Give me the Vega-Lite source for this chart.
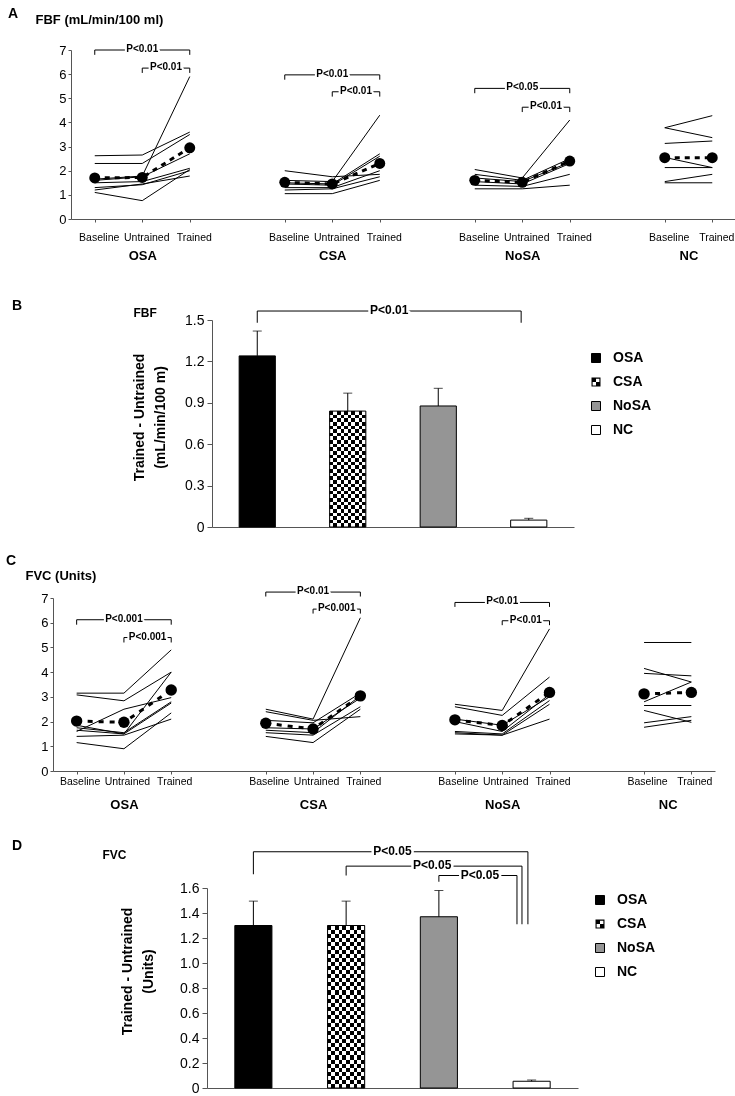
{
"$schema": "https://vega.github.io/schema/vega-lite/v6.json",
"background": "white",
"padding": {"left": 6, "top": 6, "right": 0, "bottom": 0},
"config": {
  "view": {"stroke": null},
  "font": "Liberation Sans",
  "title": {"font": "Liberation Sans", "fontSize": 14, "fontWeight": "bold", "color": "black", "anchor": "start", "frame": "group"},
  "axis": {"grid": false, "domainColor": "#555", "tickColor": "#555", "labelColor": "#000", "titleColor": "#000", "labelFont": "Liberation Sans", "titleFont": "Liberation Sans"},
  "legend": {"labelFont": "Liberation Sans"},
  "text": {"font": "Liberation Sans"}
},
"datasets": {
  "fbfSub": [
    {"s":"O1","c":"OSA Baseline","v":2.62},{"s":"O1","c":"OSA Untrained","v":2.65},{"s":"O1","c":"OSA Trained","v":3.6},
    {"s":"O2","c":"OSA Baseline","v":2.3},{"s":"O2","c":"OSA Untrained","v":2.3},{"s":"O2","c":"OSA Trained","v":3.5},
    {"s":"O3","c":"OSA Baseline","v":1.65},{"s":"O3","c":"OSA Untrained","v":1.78},{"s":"O3","c":"OSA Trained","v":5.9},
    {"s":"O4","c":"OSA Baseline","v":1.6},{"s":"O4","c":"OSA Untrained","v":1.75},{"s":"O4","c":"OSA Trained","v":2.7},
    {"s":"O5","c":"OSA Baseline","v":1.5},{"s":"O5","c":"OSA Untrained","v":1.55},{"s":"O5","c":"OSA Trained","v":2.1},
    {"s":"O6","c":"OSA Baseline","v":1.3},{"s":"O6","c":"OSA Untrained","v":1.42},{"s":"O6","c":"OSA Trained","v":2.0},
    {"s":"O7","c":"OSA Baseline","v":1.2},{"s":"O7","c":"OSA Untrained","v":1.45},{"s":"O7","c":"OSA Trained","v":1.78},
    {"s":"O8","c":"OSA Baseline","v":1.1},{"s":"O8","c":"OSA Untrained","v":0.76},{"s":"O8","c":"OSA Trained","v":2.05},
    {"s":"C1","c":"CSA Baseline","v":2.0},{"s":"C1","c":"CSA Untrained","v":1.75},{"s":"C1","c":"CSA Trained","v":1.85},
    {"s":"C2","c":"CSA Baseline","v":1.6},{"s":"C2","c":"CSA Untrained","v":1.55},{"s":"C2","c":"CSA Trained","v":4.3},
    {"s":"C3","c":"CSA Baseline","v":1.5},{"s":"C3","c":"CSA Untrained","v":1.45},{"s":"C3","c":"CSA Trained","v":2.7},
    {"s":"C4","c":"CSA Baseline","v":1.45},{"s":"C4","c":"CSA Untrained","v":1.4},{"s":"C4","c":"CSA Trained","v":2.6},
    {"s":"C5","c":"CSA Baseline","v":1.3},{"s":"C5","c":"CSA Untrained","v":1.3},{"s":"C5","c":"CSA Trained","v":2.0},
    {"s":"C6","c":"CSA Baseline","v":1.2},{"s":"C6","c":"CSA Untrained","v":1.25},{"s":"C6","c":"CSA Trained","v":1.75},
    {"s":"C7","c":"CSA Baseline","v":1.05},{"s":"C7","c":"CSA Untrained","v":1.05},{"s":"C7","c":"CSA Trained","v":1.6},
    {"s":"N1","c":"NoSA Baseline","v":2.05},{"s":"N1","c":"NoSA Untrained","v":1.7},{"s":"N1","c":"NoSA Trained","v":4.1},
    {"s":"N2","c":"NoSA Baseline","v":1.85},{"s":"N2","c":"NoSA Untrained","v":1.6},{"s":"N2","c":"NoSA Trained","v":2.5},
    {"s":"N3","c":"NoSA Baseline","v":1.7},{"s":"N3","c":"NoSA Untrained","v":1.55},{"s":"N3","c":"NoSA Trained","v":2.35},
    {"s":"N4","c":"NoSA Baseline","v":1.55},{"s":"N4","c":"NoSA Untrained","v":1.45},{"s":"N4","c":"NoSA Trained","v":2.3},
    {"s":"N5","c":"NoSA Baseline","v":1.4},{"s":"N5","c":"NoSA Untrained","v":1.35},{"s":"N5","c":"NoSA Trained","v":1.85},
    {"s":"N6","c":"NoSA Baseline","v":1.25},{"s":"N6","c":"NoSA Untrained","v":1.25},{"s":"N6","c":"NoSA Trained","v":1.4},
    {"s":"K1","c":"NC Baseline","v":3.78},{"s":"K1","c":"NC Trained","v":4.28},
    {"s":"K2","c":"NC Baseline","v":3.78},{"s":"K2","c":"NC Trained","v":3.37},
    {"s":"K3","c":"NC Baseline","v":3.13},{"s":"K3","c":"NC Trained","v":3.23},
    {"s":"K4","c":"NC Baseline","v":2.55},{"s":"K4","c":"NC Trained","v":2.13},
    {"s":"K5","c":"NC Baseline","v":2.13},{"s":"K5","c":"NC Trained","v":2.13},
    {"s":"K6","c":"NC Baseline","v":1.55},{"s":"K6","c":"NC Trained","v":1.85},
    {"s":"K7","c":"NC Baseline","v":1.5},{"s":"K7","c":"NC Trained","v":1.5}
  ],
  "fbfMean": [
    {"s":"mO","c":"OSA Baseline","v":1.7},{"s":"mO","c":"OSA Untrained","v":1.72},{"s":"mO","c":"OSA Trained","v":2.95},
    {"s":"mC","c":"CSA Baseline","v":1.52},{"s":"mC","c":"CSA Untrained","v":1.45},{"s":"mC","c":"CSA Trained","v":2.3},
    {"s":"mN","c":"NoSA Baseline","v":1.6},{"s":"mN","c":"NoSA Untrained","v":1.52},{"s":"mN","c":"NoSA Trained","v":2.4},
    {"s":"mK","c":"NC Baseline","v":2.54},{"s":"mK","c":"NC Trained","v":2.54}
  ],
  "fbfBrk": [
    {"from":"OSA Baseline","to":"OSA Trained","mid":"OSA Untrained","hi":7.0,"lo":6.8,"p":"P<0.01"},
    {"from":"OSA Untrained","to":"OSA Trained","mid":"OSA U-T","hi":6.25,"lo":6.05,"p":"P<0.01"},
    {"from":"CSA Baseline","to":"CSA Trained","mid":"CSA Untrained","hi":5.97,"lo":5.77,"p":"P<0.01"},
    {"from":"CSA Untrained","to":"CSA Trained","mid":"CSA U-T","hi":5.27,"lo":5.07,"p":"P<0.01"},
    {"from":"NoSA Baseline","to":"NoSA Trained","mid":"NoSA Untrained","hi":5.41,"lo":5.21,"p":"P<0.05"},
    {"from":"NoSA Untrained","to":"NoSA Trained","mid":"NoSA U-T","hi":4.63,"lo":4.43,"p":"P<0.01"}
  ],
  "fvcSub": [
    {"s":"O1","c":"OSA Baseline","v":3.15},{"s":"O1","c":"OSA Untrained","v":3.15},{"s":"O1","c":"OSA Trained","v":4.9},
    {"s":"O2","c":"OSA Baseline","v":3.08},{"s":"O2","c":"OSA Untrained","v":2.84},{"s":"O2","c":"OSA Trained","v":4.0},
    {"s":"O3","c":"OSA Baseline","v":1.6},{"s":"O3","c":"OSA Untrained","v":2.5},{"s":"O3","c":"OSA Trained","v":2.97},
    {"s":"O4","c":"OSA Baseline","v":1.85},{"s":"O4","c":"OSA Untrained","v":1.5},{"s":"O4","c":"OSA Trained","v":4.0},
    {"s":"O5","c":"OSA Baseline","v":1.75},{"s":"O5","c":"OSA Untrained","v":1.55},{"s":"O5","c":"OSA Trained","v":2.8},
    {"s":"O6","c":"OSA Baseline","v":1.65},{"s":"O6","c":"OSA Untrained","v":1.5},{"s":"O6","c":"OSA Trained","v":2.75},
    {"s":"O7","c":"OSA Baseline","v":1.4},{"s":"O7","c":"OSA Untrained","v":1.45},{"s":"O7","c":"OSA Trained","v":2.1},
    {"s":"O8","c":"OSA Baseline","v":1.15},{"s":"O8","c":"OSA Untrained","v":0.9},{"s":"O8","c":"OSA Trained","v":2.35},
    {"s":"C1","c":"CSA Baseline","v":2.5},{"s":"C1","c":"CSA Untrained","v":2.1},{"s":"C1","c":"CSA Trained","v":6.2},
    {"s":"C2","c":"CSA Baseline","v":2.4},{"s":"C2","c":"CSA Untrained","v":2.05},{"s":"C2","c":"CSA Trained","v":2.2},
    {"s":"C3","c":"CSA Baseline","v":2.05},{"s":"C3","c":"CSA Untrained","v":1.95},{"s":"C3","c":"CSA Trained","v":3.15},
    {"s":"C4","c":"CSA Baseline","v":1.65},{"s":"C4","c":"CSA Untrained","v":1.55},{"s":"C4","c":"CSA Trained","v":3.05},
    {"s":"C5","c":"CSA Baseline","v":1.55},{"s":"C5","c":"CSA Untrained","v":1.45},{"s":"C5","c":"CSA Trained","v":2.6},
    {"s":"C6","c":"CSA Baseline","v":1.4},{"s":"C6","c":"CSA Untrained","v":1.15},{"s":"C6","c":"CSA Trained","v":2.5},
    {"s":"C7","c":"CSA Baseline","v":1.75},{"s":"C7","c":"CSA Untrained","v":1.7},{"s":"C7","c":"CSA Trained","v":2.95},
    {"s":"N1","c":"NoSA Baseline","v":2.7},{"s":"N1","c":"NoSA Untrained","v":2.45},{"s":"N1","c":"NoSA Trained","v":5.75},
    {"s":"N2","c":"NoSA Baseline","v":2.6},{"s":"N2","c":"NoSA Untrained","v":2.25},{"s":"N2","c":"NoSA Trained","v":3.8},
    {"s":"N3","c":"NoSA Baseline","v":2.1},{"s":"N3","c":"NoSA Untrained","v":1.85},{"s":"N3","c":"NoSA Trained","v":3.0},
    {"s":"N4","c":"NoSA Baseline","v":1.6},{"s":"N4","c":"NoSA Untrained","v":1.5},{"s":"N4","c":"NoSA Trained","v":2.85},
    {"s":"N5","c":"NoSA Baseline","v":1.55},{"s":"N5","c":"NoSA Untrained","v":1.45},{"s":"N5","c":"NoSA Trained","v":2.7},
    {"s":"N6","c":"NoSA Baseline","v":1.5},{"s":"N6","c":"NoSA Untrained","v":1.45},{"s":"N6","c":"NoSA Trained","v":2.1},
    {"s":"N7","c":"NoSA Baseline","v":2.0},{"s":"N7","c":"NoSA Untrained","v":1.6},{"s":"N7","c":"NoSA Trained","v":3.1},
    {"s":"K1","c":"NC Baseline","v":5.2},{"s":"K1","c":"NC Trained","v":5.2},
    {"s":"K2","c":"NC Baseline","v":4.15},{"s":"K2","c":"NC Trained","v":3.6},
    {"s":"K3","c":"NC Baseline","v":3.95},{"s":"K3","c":"NC Trained","v":3.85},
    {"s":"K4","c":"NC Baseline","v":2.8},{"s":"K4","c":"NC Trained","v":3.6},
    {"s":"K5","c":"NC Baseline","v":2.65},{"s":"K5","c":"NC Trained","v":2.65},
    {"s":"K6","c":"NC Baseline","v":2.45},{"s":"K6","c":"NC Trained","v":1.97},
    {"s":"K7","c":"NC Baseline","v":1.95},{"s":"K7","c":"NC Trained","v":2.2},
    {"s":"K8","c":"NC Baseline","v":1.77},{"s":"K8","c":"NC Trained","v":2.05}
  ],
  "fvcMean": [
    {"s":"mO","c":"OSA Baseline","v":2.02},{"s":"mO","c":"OSA Untrained","v":1.97},{"s":"mO","c":"OSA Trained","v":3.28},
    {"s":"mC","c":"CSA Baseline","v":1.93},{"s":"mC","c":"CSA Untrained","v":1.7},{"s":"mC","c":"CSA Trained","v":3.04},
    {"s":"mN","c":"NoSA Baseline","v":2.07},{"s":"mN","c":"NoSA Untrained","v":1.84},{"s":"mN","c":"NoSA Trained","v":3.18},
    {"s":"mK","c":"NC Baseline","v":3.12},{"s":"mK","c":"NC Trained","v":3.18}
  ],
  "fvcBrk": [
    {"from":"OSA Baseline","to":"OSA Trained","mid":"OSA Untrained","hi":6.12,"lo":5.92,"p":"P<0.001"},
    {"from":"OSA Untrained","to":"OSA Trained","mid":"OSA U-T","hi":5.4,"lo":5.2,"p":"P<0.001"},
    {"from":"CSA Baseline","to":"CSA Trained","mid":"CSA Untrained","hi":7.24,"lo":7.06,"p":"P<0.01"},
    {"from":"CSA Untrained","to":"CSA Trained","mid":"CSA U-T","hi":6.55,"lo":6.37,"p":"P<0.001"},
    {"from":"NoSA Baseline","to":"NoSA Trained","mid":"NoSA Untrained","hi":6.82,"lo":6.64,"p":"P<0.01"},
    {"from":"NoSA Untrained","to":"NoSA Trained","mid":"NoSA U-T","hi":6.08,"lo":5.9,"p":"P<0.01"}
  ],
  "fbfDiff": [
    {"g":"OSA","m":1.24,"e":1.42},{"g":"CSA","m":0.84,"e":0.97},{"g":"NoSA","m":0.877,"e":1.005},{"g":"NC","m":0.05,"e":0.063}
  ],
  "fbfDiffBrk": [
    {"from":"OSA","to":"NC","lo":1.48,"hi":1.565,"p":"P<0.01"}
  ],
  "fvcDiff": [
    {"g":"OSA","m":1.3,"e":1.495},{"g":"CSA","m":1.3,"e":1.495},{"g":"NoSA","m":1.37,"e":1.58},{"g":"NC","m":0.054,"e":0.064}
  ],
  "fvcDiffBrk": [
    {"k":1,"from":"OSA","to":"NC","lo":1.71,"hi":1.89,"drop":1.31,"p":"P<0.05"},
    {"k":2,"from":"CSA","to":"NC","lo":1.7,"hi":1.775,"drop":1.31,"p":"P<0.05"},
    {"k":3,"from":"NoSA","to":"NC","lo":1.65,"hi":1.7,"drop":1.31,"p":"P<0.05"}
  ]
},
"concat": [
 {"concat": [
  {
   "width": 683, "height": 169,
   "title": {"text": "A", "dx": -45, "offset": -7.5},
   "resolve": {"axis": {"x": "independent"}},
   "layer": [
    {"data": {"name": "fbfSub"}, "mark": {"type": "line", "color": "black", "strokeWidth": 1},
     "encoding": {
      "x": {"field": "c", "type": "nominal",
            "scale": {"type": "point", "padding": 1, "range": [18, 683], "domain": ["OSA Baseline","OSA B-U","OSA Untrained","OSA U-T","OSA Trained","gap 1","gap 2","gap 3","CSA Baseline","CSA B-U","CSA Untrained","CSA U-T","CSA Trained","gap 4","gap 5","gap 6","NoSA Baseline","NoSA B-U","NoSA Untrained","NoSA U-T","NoSA Trained","gap 7","gap 8","gap 9","NC Baseline","NC B-T","NC Trained"]},
            "axis": {"orient": "bottom", "values": ["OSA Baseline","OSA Untrained","OSA Trained","CSA Baseline","CSA Untrained","CSA Trained","NoSA Baseline","NoSA Untrained","NoSA Trained","NC Baseline","NC Trained"],
                     "labelExpr": "split(datum.value, ' ')[1]", "title": null, "labelAngle": 0, "labelOverlap": false, "labelFontSize": 10.5, "tickSize": 3, "labelPadding": 10, "labelOffset": 4}},
      "y": {"field": "v", "type": "quantitative", "scale": {"domain": [0, 7], "nice": false, "zero": false},
            "axis": {"offset": -18, "values": [0,1,2,3,4,5,6,7], "format": "d", "tickCount": 10, "labelOverlap": false, "title": "FBF (mL/min/100 ml)", "titleAngle": 0, "titleAlign": "left", "titleBaseline": "middle", "titleX": -36, "titleY": -31, "titleFontSize": 13, "titleFontWeight": "bold", "labelFontSize": 13, "tickSize": 3, "labelPadding": 2}},
      "detail": {"field": "s"},
      "order": {"value": null}
     }},
    {"data": {"name": "fbfMean"}, "mark": {"type": "line", "color": "black", "strokeWidth": 3, "strokeDash": [5, 5]},
     "encoding": {
      "x": {"field": "c", "type": "nominal", "scale": {"type": "point"}, "axis": null},
      "y": {"field": "v", "type": "quantitative"},
      "detail": {"field": "s"},
      "order": {"value": null}
     }},
    {"data": {"name": "fbfMean"}, "mark": {"type": "point", "shape": "circle", "filled": true, "size": 120, "color": "black", "opacity": 1},
     "encoding": {
      "x": {"field": "c", "type": "nominal", "scale": {"type": "point"},
            "axis": {"orient": "bottom", "values": ["OSA Untrained","CSA Untrained","NoSA Untrained","NC B-T"], "labelExpr": "split(datum.value, ' ')[0]", "title": null, "ticks": false, "tickSize": 0, "domain": false, "labelAngle": 0, "labelOverlap": false, "labelFontSize": 13, "labelFontWeight": "bold", "labelPadding": 30}},
      "y": {"field": "v", "type": "quantitative"}
     }},
    {"data": {"name": "fbfBrk"},
     "layer": [
      {"mark": {"type": "rule", "color": "black", "strokeWidth": 1},
       "encoding": {"x": {"field": "from", "type": "nominal", "scale": {"type": "point"}, "axis": null}, "x2": {"field": "to"}, "y": {"field": "hi", "type": "quantitative"}}},
      {"mark": {"type": "rule", "color": "black", "strokeWidth": 1},
       "encoding": {"x": {"field": "from", "type": "nominal", "scale": {"type": "point"}, "axis": null}, "y": {"field": "hi", "type": "quantitative"}, "y2": {"field": "lo"}}},
      {"mark": {"type": "rule", "color": "black", "strokeWidth": 1},
       "encoding": {"x": {"field": "to", "type": "nominal", "scale": {"type": "point"}, "axis": null}, "y": {"field": "hi", "type": "quantitative"}, "y2": {"field": "lo"}}},
      {"mark": {"type": "text", "fontSize": 10, "fontWeight": "bold", "fill": "white", "stroke": "white", "strokeWidth": 4, "strokeJoin": "round", "dy": -1, "baseline": "middle", "align": "center"},
       "encoding": {"x": {"field": "mid", "type": "nominal", "scale": {"type": "point"}, "axis": null}, "y": {"field": "hi", "type": "quantitative"}, "text": {"field": "p"}}},
      {"mark": {"type": "text", "fontSize": 10, "fontWeight": "bold", "fill": "black", "dy": -1, "baseline": "middle", "align": "center"},
       "encoding": {"x": {"field": "mid", "type": "nominal", "scale": {"type": "point"}, "axis": null}, "y": {"field": "hi", "type": "quantitative"}, "text": {"field": "p"}}}
     ]}
   ]
  },
  {
   "width": 521, "height": 207,
   "title": {"text": "B", "dx": -41, "offset": -9},
   "layer": [
    {"data": {"name": "fbfDiff"}, "mark": {"type": "bar"},
     "encoding": {
      "x": {"field": "g", "type": "nominal", "scale": {"domain": ["OSA","CSA","NoSA","NC"], "range": [159, 521], "paddingInner": 0.6, "paddingOuter": 0.3},
            "axis": {"title": "FBF", "titleX": 80, "titleY": -215, "titleAlign": "left", "titleBaseline": "middle", "titleFontSize": 12, "titleFontWeight": "bold", "labels": false, "ticks": false, "domain": true}},
      "y": {"field": "m", "type": "quantitative", "scale": {"domain": [0, 1.5], "nice": false},
            "axis": {"offset": -159, "values": [0,0.3,0.6,0.9,1.2,1.5], "tickCount": 10, "labelOverlap": false, "labelExpr": "datum.value === 0 ? '0' : format(datum.value, '.1f')", "title": ["Trained - Untrained", "(mL/min/100 m)"], "titleFontSize": 14, "titleFontWeight": "bold", "titlePadding": 17, "titleLineHeight": 21, "titleY": 97, "labelFontSize": 14, "tickSize": 5, "labelPadding": 3}},
      "fill": {"field": "g", "type": "nominal", "scale": {"domain": ["OSA","CSA","NoSA","NC"], "range": ["#000000","#000000","#959595","#ffffff"]},
               "legend": {"orient": "none", "legendX": 536, "legendY": 31, "title": null, "symbolType": "square", "symbolSize": 81, "labelFontSize": 14, "labelFontWeight": "bold", "labelColor": "black", "labelOffset": 10, "rowPadding": 10, "padding": 0,
                          "encode": {"symbols": {"update": {"shape": {"signal": "datum.value === 'CSA' ? 'M-1,-1H1V1H-1ZM-0.75,-0.75V0.75H0.75V-0.75ZM-0.75,-0.75H0V0H-0.75ZM0,0H0.75V0.75H0Z' : 'square'"}, "stroke": {"value": "black"}, "strokeWidth": {"signal": "datum.value === 'CSA' ? 0 : 1"}, "opacity": {"value": 1}}}}}}
     }},
    {"data": {"name": "fbfDiff"}, "transform": [{"filter": "datum.g === 'CSA'"}],
     "mark": {"type": "bar", "fill": {"gradient": "linear", "x1": 0, "y1": 0, "x2": 0, "y2": 1, "stops": [{"offset":0,"color":"#000"},{"offset":0.03125,"color":"#000"},{"offset":0.03125,"color":"#fff"},{"offset":0.0625,"color":"#fff"},{"offset":0.0625,"color":"#000"},{"offset":0.09375,"color":"#000"},{"offset":0.09375,"color":"#fff"},{"offset":0.125,"color":"#fff"},{"offset":0.125,"color":"#000"},{"offset":0.15625,"color":"#000"},{"offset":0.15625,"color":"#fff"},{"offset":0.1875,"color":"#fff"},{"offset":0.1875,"color":"#000"},{"offset":0.21875,"color":"#000"},{"offset":0.21875,"color":"#fff"},{"offset":0.25,"color":"#fff"},{"offset":0.25,"color":"#000"},{"offset":0.28125,"color":"#000"},{"offset":0.28125,"color":"#fff"},{"offset":0.3125,"color":"#fff"},{"offset":0.3125,"color":"#000"},{"offset":0.34375,"color":"#000"},{"offset":0.34375,"color":"#fff"},{"offset":0.375,"color":"#fff"},{"offset":0.375,"color":"#000"},{"offset":0.40625,"color":"#000"},{"offset":0.40625,"color":"#fff"},{"offset":0.4375,"color":"#fff"},{"offset":0.4375,"color":"#000"},{"offset":0.46875,"color":"#000"},{"offset":0.46875,"color":"#fff"},{"offset":0.5,"color":"#fff"},{"offset":0.5,"color":"#000"},{"offset":0.53125,"color":"#000"},{"offset":0.53125,"color":"#fff"},{"offset":0.5625,"color":"#fff"},{"offset":0.5625,"color":"#000"},{"offset":0.59375,"color":"#000"},{"offset":0.59375,"color":"#fff"},{"offset":0.625,"color":"#fff"},{"offset":0.625,"color":"#000"},{"offset":0.65625,"color":"#000"},{"offset":0.65625,"color":"#fff"},{"offset":0.6875,"color":"#fff"},{"offset":0.6875,"color":"#000"},{"offset":0.71875,"color":"#000"},{"offset":0.71875,"color":"#fff"},{"offset":0.75,"color":"#fff"},{"offset":0.75,"color":"#000"},{"offset":0.78125,"color":"#000"},{"offset":0.78125,"color":"#fff"},{"offset":0.8125,"color":"#fff"},{"offset":0.8125,"color":"#000"},{"offset":0.84375,"color":"#000"},{"offset":0.84375,"color":"#fff"},{"offset":0.875,"color":"#fff"},{"offset":0.875,"color":"#000"},{"offset":0.90625,"color":"#000"},{"offset":0.90625,"color":"#fff"},{"offset":0.9375,"color":"#fff"},{"offset":0.9375,"color":"#000"},{"offset":0.96875,"color":"#000"},{"offset":0.96875,"color":"#fff"},{"offset":1,"color":"#fff"}]}},
     "encoding": {"x": {"field": "g", "type": "nominal"}, "y": {"field": "m", "type": "quantitative"}}},
    {"data": {"name": "fbfDiff"}, "transform": [{"filter": "datum.g === 'CSA'"}],
     "mark": {"type": "bar", "blend": "difference", "fill": {"gradient": "linear", "x1": 0, "y1": 0, "x2": 1, "y2": 0, "stops": [{"offset":0,"color":"#000"},{"offset":0.1,"color":"#000"},{"offset":0.1,"color":"#fff"},{"offset":0.2,"color":"#fff"},{"offset":0.2,"color":"#000"},{"offset":0.3,"color":"#000"},{"offset":0.3,"color":"#fff"},{"offset":0.4,"color":"#fff"},{"offset":0.4,"color":"#000"},{"offset":0.5,"color":"#000"},{"offset":0.5,"color":"#fff"},{"offset":0.6,"color":"#fff"},{"offset":0.6,"color":"#000"},{"offset":0.7,"color":"#000"},{"offset":0.7,"color":"#fff"},{"offset":0.8,"color":"#fff"},{"offset":0.8,"color":"#000"},{"offset":0.9,"color":"#000"},{"offset":0.9,"color":"#fff"},{"offset":1,"color":"#fff"}]}},
     "encoding": {"x": {"field": "g", "type": "nominal"}, "y": {"field": "m", "type": "quantitative"}}},
    {"data": {"name": "fbfDiff"}, "mark": {"type": "bar", "fillOpacity": 0, "stroke": "black", "strokeWidth": 1},
     "encoding": {"x": {"field": "g", "type": "nominal"}, "y": {"field": "m", "type": "quantitative"}}},
    {"data": {"name": "fbfDiff"}, "mark": {"type": "rule", "color": "black", "strokeWidth": 1},
     "encoding": {"x": {"field": "g", "type": "nominal"}, "y": {"field": "m", "type": "quantitative"}, "y2": {"field": "e"}}},
    {"data": {"name": "fbfDiff"}, "mark": {"type": "tick", "color": "black", "thickness": 1, "size": 9},
     "encoding": {"x": {"field": "g", "type": "nominal"}, "y": {"field": "e", "type": "quantitative"}}},
    {"data": {"name": "fbfDiffBrk"},
     "layer": [
      {"mark": {"type": "rule", "color": "black", "strokeWidth": 1},
       "encoding": {"x": {"field": "from", "type": "nominal"}, "y": {"field": "lo", "type": "quantitative"}, "y2": {"field": "hi"}}},
      {"mark": {"type": "rule", "color": "black", "strokeWidth": 1},
       "encoding": {"x": {"field": "from", "type": "nominal"}, "x2": {"field": "to", "bandPosition": 0.29}, "y": {"field": "hi", "type": "quantitative"}}},
      {"mark": {"type": "rule", "color": "black", "strokeWidth": 1},
       "encoding": {"x": {"field": "to", "type": "nominal", "bandPosition": 0.29}, "y": {"field": "hi", "type": "quantitative"}, "y2": {"field": "lo"}}},
      {"mark": {"type": "text", "fontSize": 12, "fontWeight": "bold", "fill": "white", "stroke": "white", "strokeWidth": 5, "strokeJoin": "round", "dx": 132, "dy": -1, "baseline": "middle", "align": "center"},
       "encoding": {"x": {"field": "from", "type": "nominal"}, "y": {"field": "hi", "type": "quantitative"}, "text": {"field": "p"}}},
      {"mark": {"type": "text", "fontSize": 12, "fontWeight": "bold", "fill": "black", "dx": 132, "dy": -1, "baseline": "middle", "align": "center"},
       "encoding": {"x": {"field": "from", "type": "nominal"}, "y": {"field": "hi", "type": "quantitative"}, "text": {"field": "p"}}}
     ]}
   ]
  }
 ], "columns": 1, "align": "none", "spacing": 37, "resolve": {"scale": {"fill": "independent"}, "legend": {"fill": "independent"}}},
 {"concat": [
  {
   "width": 662, "height": 173,
   "title": {"text": "C", "dx": -47, "offset": 1.5},
   "resolve": {"axis": {"x": "independent"}},
   "layer": [
    {"data": {"name": "fvcSub"}, "mark": {"type": "line", "color": "black", "strokeWidth": 1},
     "encoding": {
      "x": {"field": "c", "type": "nominal",
            "scale": {"type": "point", "padding": 1, "domain": ["OSA Baseline","OSA B-U","OSA Untrained","OSA U-T","OSA Trained","gap 1","gap 2","gap 3","CSA Baseline","CSA B-U","CSA Untrained","CSA U-T","CSA Trained","gap 4","gap 5","gap 6","NoSA Baseline","NoSA B-U","NoSA Untrained","NoSA U-T","NoSA Trained","gap 7","gap 8","gap 9","NC Baseline","NC B-T","NC Trained"]},
            "axis": {"orient": "bottom", "values": ["OSA Baseline","OSA Untrained","OSA Trained","CSA Baseline","CSA Untrained","CSA Trained","NoSA Baseline","NoSA Untrained","NoSA Trained","NC Baseline","NC Trained"],
                     "labelExpr": "split(datum.value, ' ')[1]", "title": null, "labelAngle": 0, "labelOverlap": false, "labelFontSize": 10.5, "tickSize": 3, "labelPadding": 2, "labelOffset": 3}},
      "y": {"field": "v", "type": "quantitative", "scale": {"domain": [0, 7], "nice": false, "zero": false},
            "axis": {"values": [0,1,2,3,4,5,6,7], "format": "d", "tickCount": 10, "labelOverlap": false, "title": "FVC (Units)", "titleAngle": 0, "titleAlign": "left", "titleBaseline": "middle", "titleX": -28, "titleY": -23, "titleFontSize": 13, "titleFontWeight": "bold", "labelFontSize": 13, "tickSize": 3, "labelPadding": 2}},
      "detail": {"field": "s"},
      "order": {"value": null}
     }},
    {"data": {"name": "fvcMean"}, "mark": {"type": "line", "color": "black", "strokeWidth": 3, "strokeDash": [5, 6]},
     "encoding": {
      "x": {"field": "c", "type": "nominal", "scale": {"type": "point"}, "axis": null},
      "y": {"field": "v", "type": "quantitative"},
      "detail": {"field": "s"},
      "order": {"value": null}
     }},
    {"data": {"name": "fvcMean"}, "mark": {"type": "point", "shape": "circle", "filled": true, "size": 130, "color": "black", "opacity": 1},
     "encoding": {
      "x": {"field": "c", "type": "nominal", "scale": {"type": "point"},
            "axis": {"orient": "bottom", "values": ["OSA Untrained","CSA Untrained","NoSA Untrained","NC B-T"], "labelExpr": "split(datum.value, ' ')[0]", "title": null, "ticks": false, "tickSize": 0, "domain": false, "labelAngle": 0, "labelOverlap": false, "labelFontSize": 13, "labelFontWeight": "bold", "labelPadding": 27}},
      "y": {"field": "v", "type": "quantitative"}
     }},
    {"data": {"name": "fvcBrk"},
     "layer": [
      {"mark": {"type": "rule", "color": "black", "strokeWidth": 1},
       "encoding": {"x": {"field": "from", "type": "nominal", "scale": {"type": "point"}, "axis": null}, "x2": {"field": "to"}, "y": {"field": "hi", "type": "quantitative"}}},
      {"mark": {"type": "rule", "color": "black", "strokeWidth": 1},
       "encoding": {"x": {"field": "from", "type": "nominal", "scale": {"type": "point"}, "axis": null}, "y": {"field": "hi", "type": "quantitative"}, "y2": {"field": "lo"}}},
      {"mark": {"type": "rule", "color": "black", "strokeWidth": 1},
       "encoding": {"x": {"field": "to", "type": "nominal", "scale": {"type": "point"}, "axis": null}, "y": {"field": "hi", "type": "quantitative"}, "y2": {"field": "lo"}}},
      {"mark": {"type": "text", "fontSize": 10, "fontWeight": "bold", "fill": "white", "stroke": "white", "strokeWidth": 4, "strokeJoin": "round", "dy": -1, "baseline": "middle", "align": "center"},
       "encoding": {"x": {"field": "mid", "type": "nominal", "scale": {"type": "point"}, "axis": null}, "y": {"field": "hi", "type": "quantitative"}, "text": {"field": "p"}}},
      {"mark": {"type": "text", "fontSize": 10, "fontWeight": "bold", "fill": "black", "dy": -1, "baseline": "middle", "align": "center"},
       "encoding": {"x": {"field": "mid", "type": "nominal", "scale": {"type": "point"}, "axis": null}, "y": {"field": "hi", "type": "quantitative"}, "text": {"field": "p"}}}
     ]}
   ]
  },
  {
   "width": 525, "height": 200,
   "title": {"text": "D", "dx": -41, "offset": -8.5},
   "layer": [
    {"data": {"name": "fvcDiff"}, "mark": {"type": "bar"},
     "encoding": {
      "x": {"field": "g", "type": "nominal", "scale": {"domain": ["OSA","CSA","NoSA","NC"], "range": [154, 525], "paddingInner": 0.6, "paddingOuter": 0.3},
            "axis": {"title": "FVC", "titleX": 49, "titleY": -234, "titleAlign": "left", "titleBaseline": "middle", "titleFontSize": 12, "titleFontWeight": "bold", "labels": false, "ticks": false, "domain": true}},
      "y": {"field": "m", "type": "quantitative", "scale": {"domain": [0, 1.6], "nice": false},
            "axis": {"offset": -154, "values": [0,0.2,0.4,0.6,0.8,1.0,1.2,1.4,1.6], "tickCount": 10, "labelOverlap": false, "labelExpr": "datum.value === 0 ? '0' : format(datum.value, '.1f')", "title": ["Trained - Untrained", "(Units)"], "titleFontSize": 14, "titleFontWeight": "bold", "titlePadding": 24, "titleLineHeight": 21, "titleY": 83, "labelFontSize": 14, "tickSize": 5, "labelPadding": 3}},
      "fill": {"field": "g", "type": "nominal", "scale": {"domain": ["OSA","CSA","NoSA","NC"], "range": ["#000000","#000000","#959595","#ffffff"]},
               "legend": {"orient": "none", "legendX": 540, "legendY": 5, "title": null, "symbolType": "square", "symbolSize": 81, "labelFontSize": 14, "labelFontWeight": "bold", "labelColor": "black", "labelOffset": 10, "rowPadding": 10, "padding": 0,
                          "encode": {"symbols": {"update": {"shape": {"signal": "datum.value === 'CSA' ? 'M-1,-1H1V1H-1ZM-0.75,-0.75V0.75H0.75V-0.75ZM-0.75,-0.75H0V0H-0.75ZM0,0H0.75V0.75H0Z' : 'square'"}, "stroke": {"value": "black"}, "strokeWidth": {"signal": "datum.value === 'CSA' ? 0 : 1"}, "opacity": {"value": 1}}}}}}
     }},
    {"data": {"name": "fvcDiff"}, "transform": [{"filter": "datum.g === 'CSA'"}],
     "mark": {"type": "bar", "fill": {"gradient": "linear", "x1": 0, "y1": 0, "x2": 0, "y2": 1, "stops": [{"offset":0,"color":"#000"},{"offset":0.025,"color":"#000"},{"offset":0.025,"color":"#fff"},{"offset":0.05,"color":"#fff"},{"offset":0.05,"color":"#000"},{"offset":0.075,"color":"#000"},{"offset":0.075,"color":"#fff"},{"offset":0.1,"color":"#fff"},{"offset":0.1,"color":"#000"},{"offset":0.125,"color":"#000"},{"offset":0.125,"color":"#fff"},{"offset":0.15,"color":"#fff"},{"offset":0.15,"color":"#000"},{"offset":0.175,"color":"#000"},{"offset":0.175,"color":"#fff"},{"offset":0.2,"color":"#fff"},{"offset":0.2,"color":"#000"},{"offset":0.225,"color":"#000"},{"offset":0.225,"color":"#fff"},{"offset":0.25,"color":"#fff"},{"offset":0.25,"color":"#000"},{"offset":0.275,"color":"#000"},{"offset":0.275,"color":"#fff"},{"offset":0.3,"color":"#fff"},{"offset":0.3,"color":"#000"},{"offset":0.325,"color":"#000"},{"offset":0.325,"color":"#fff"},{"offset":0.35,"color":"#fff"},{"offset":0.35,"color":"#000"},{"offset":0.375,"color":"#000"},{"offset":0.375,"color":"#fff"},{"offset":0.4,"color":"#fff"},{"offset":0.4,"color":"#000"},{"offset":0.425,"color":"#000"},{"offset":0.425,"color":"#fff"},{"offset":0.45,"color":"#fff"},{"offset":0.45,"color":"#000"},{"offset":0.475,"color":"#000"},{"offset":0.475,"color":"#fff"},{"offset":0.5,"color":"#fff"},{"offset":0.5,"color":"#000"},{"offset":0.525,"color":"#000"},{"offset":0.525,"color":"#fff"},{"offset":0.55,"color":"#fff"},{"offset":0.55,"color":"#000"},{"offset":0.575,"color":"#000"},{"offset":0.575,"color":"#fff"},{"offset":0.6,"color":"#fff"},{"offset":0.6,"color":"#000"},{"offset":0.625,"color":"#000"},{"offset":0.625,"color":"#fff"},{"offset":0.65,"color":"#fff"},{"offset":0.65,"color":"#000"},{"offset":0.675,"color":"#000"},{"offset":0.675,"color":"#fff"},{"offset":0.7,"color":"#fff"},{"offset":0.7,"color":"#000"},{"offset":0.725,"color":"#000"},{"offset":0.725,"color":"#fff"},{"offset":0.75,"color":"#fff"},{"offset":0.75,"color":"#000"},{"offset":0.775,"color":"#000"},{"offset":0.775,"color":"#fff"},{"offset":0.8,"color":"#fff"},{"offset":0.8,"color":"#000"},{"offset":0.825,"color":"#000"},{"offset":0.825,"color":"#fff"},{"offset":0.85,"color":"#fff"},{"offset":0.85,"color":"#000"},{"offset":0.875,"color":"#000"},{"offset":0.875,"color":"#fff"},{"offset":0.9,"color":"#fff"},{"offset":0.9,"color":"#000"},{"offset":0.925,"color":"#000"},{"offset":0.925,"color":"#fff"},{"offset":0.95,"color":"#fff"},{"offset":0.95,"color":"#000"},{"offset":0.975,"color":"#000"},{"offset":0.975,"color":"#fff"},{"offset":1,"color":"#fff"}]}},
     "encoding": {"x": {"field": "g", "type": "nominal"}, "y": {"field": "m", "type": "quantitative"}}},
    {"data": {"name": "fvcDiff"}, "transform": [{"filter": "datum.g === 'CSA'"}],
     "mark": {"type": "bar", "blend": "difference", "fill": {"gradient": "linear", "x1": 0, "y1": 0, "x2": 1, "y2": 0, "stops": [{"offset":0,"color":"#000"},{"offset":0.1,"color":"#000"},{"offset":0.1,"color":"#fff"},{"offset":0.2,"color":"#fff"},{"offset":0.2,"color":"#000"},{"offset":0.3,"color":"#000"},{"offset":0.3,"color":"#fff"},{"offset":0.4,"color":"#fff"},{"offset":0.4,"color":"#000"},{"offset":0.5,"color":"#000"},{"offset":0.5,"color":"#fff"},{"offset":0.6,"color":"#fff"},{"offset":0.6,"color":"#000"},{"offset":0.7,"color":"#000"},{"offset":0.7,"color":"#fff"},{"offset":0.8,"color":"#fff"},{"offset":0.8,"color":"#000"},{"offset":0.9,"color":"#000"},{"offset":0.9,"color":"#fff"},{"offset":1,"color":"#fff"}]}},
     "encoding": {"x": {"field": "g", "type": "nominal"}, "y": {"field": "m", "type": "quantitative"}}},
    {"data": {"name": "fvcDiff"}, "mark": {"type": "bar", "fillOpacity": 0, "stroke": "black", "strokeWidth": 1},
     "encoding": {"x": {"field": "g", "type": "nominal"}, "y": {"field": "m", "type": "quantitative"}}},
    {"data": {"name": "fvcDiff"}, "mark": {"type": "rule", "color": "black", "strokeWidth": 1},
     "encoding": {"x": {"field": "g", "type": "nominal"}, "y": {"field": "m", "type": "quantitative"}, "y2": {"field": "e"}}},
    {"data": {"name": "fvcDiff"}, "mark": {"type": "tick", "color": "black", "thickness": 1, "size": 9},
     "encoding": {"x": {"field": "g", "type": "nominal"}, "y": {"field": "e", "type": "quantitative"}}},
    {"data": {"name": "fvcDiffBrk"}, "mark": {"type": "rule", "color": "black", "strokeWidth": 1},
     "encoding": {"x": {"field": "from", "type": "nominal"}, "y": {"field": "lo", "type": "quantitative"}, "y2": {"field": "hi"}}},
    {"data": {"name": "fvcDiffBrk"}, "transform": [{"filter": "datum.k === 1"}],
     "layer": [
      {"mark": {"type": "rule", "color": "black", "strokeWidth": 1},
       "encoding": {"x": {"field": "from", "type": "nominal"}, "x2": {"field": "to", "bandPosition": 0.4}, "y": {"field": "hi", "type": "quantitative"}}},
      {"mark": {"type": "rule", "color": "black", "strokeWidth": 1},
       "encoding": {"x": {"field": "to", "type": "nominal", "bandPosition": 0.4}, "y": {"field": "hi", "type": "quantitative"}, "y2": {"field": "drop"}}},
      {"mark": {"type": "text", "fontSize": 12, "fontWeight": "bold", "fill": "white", "stroke": "white", "strokeWidth": 5, "strokeJoin": "round", "dx": 139, "dy": -1, "baseline": "middle", "align": "center"},
       "encoding": {"x": {"field": "from", "type": "nominal"}, "y": {"field": "hi", "type": "quantitative"}, "text": {"field": "p"}}},
      {"mark": {"type": "text", "fontSize": 12, "fontWeight": "bold", "fill": "black", "dx": 139, "dy": -1, "baseline": "middle", "align": "center"},
       "encoding": {"x": {"field": "from", "type": "nominal"}, "y": {"field": "hi", "type": "quantitative"}, "text": {"field": "p"}}}
     ]},
    {"data": {"name": "fvcDiffBrk"}, "transform": [{"filter": "datum.k === 2"}],
     "layer": [
      {"mark": {"type": "rule", "color": "black", "strokeWidth": 1},
       "encoding": {"x": {"field": "from", "type": "nominal"}, "x2": {"field": "to", "bandPosition": 0.24}, "y": {"field": "hi", "type": "quantitative"}}},
      {"mark": {"type": "rule", "color": "black", "strokeWidth": 1},
       "encoding": {"x": {"field": "to", "type": "nominal", "bandPosition": 0.24}, "y": {"field": "hi", "type": "quantitative"}, "y2": {"field": "drop"}}},
      {"mark": {"type": "text", "fontSize": 12, "fontWeight": "bold", "fill": "white", "stroke": "white", "strokeWidth": 5, "strokeJoin": "round", "dx": 86, "dy": -1, "baseline": "middle", "align": "center"},
       "encoding": {"x": {"field": "from", "type": "nominal"}, "y": {"field": "hi", "type": "quantitative"}, "text": {"field": "p"}}},
      {"mark": {"type": "text", "fontSize": 12, "fontWeight": "bold", "fill": "black", "dx": 86, "dy": -1, "baseline": "middle", "align": "center"},
       "encoding": {"x": {"field": "from", "type": "nominal"}, "y": {"field": "hi", "type": "quantitative"}, "text": {"field": "p"}}}
     ]},
    {"data": {"name": "fvcDiffBrk"}, "transform": [{"filter": "datum.k === 3"}],
     "layer": [
      {"mark": {"type": "rule", "color": "black", "strokeWidth": 1},
       "encoding": {"x": {"field": "from", "type": "nominal"}, "x2": {"field": "to", "bandPosition": 0.105}, "y": {"field": "hi", "type": "quantitative"}}},
      {"mark": {"type": "rule", "color": "black", "strokeWidth": 1},
       "encoding": {"x": {"field": "to", "type": "nominal", "bandPosition": 0.105}, "y": {"field": "hi", "type": "quantitative"}, "y2": {"field": "drop"}}},
      {"mark": {"type": "text", "fontSize": 12, "fontWeight": "bold", "fill": "white", "stroke": "white", "strokeWidth": 5, "strokeJoin": "round", "dx": 41, "dy": -1, "baseline": "middle", "align": "center"},
       "encoding": {"x": {"field": "from", "type": "nominal"}, "y": {"field": "hi", "type": "quantitative"}, "text": {"field": "p"}}},
      {"mark": {"type": "text", "fontSize": 12, "fontWeight": "bold", "fill": "black", "dx": 41, "dy": -1, "baseline": "middle", "align": "center"},
       "encoding": {"x": {"field": "from", "type": "nominal"}, "y": {"field": "hi", "type": "quantitative"}, "text": {"field": "p"}}}
     ]}
   ]
  }
 ], "columns": 1, "align": "none", "spacing": 28, "resolve": {"scale": {"fill": "independent"}, "legend": {"fill": "independent"}}}
],
"columns": 1, "align": "none", "spacing": 19,
"resolve": {"scale": {"fill": "independent"}, "legend": {"fill": "independent"}}
}
